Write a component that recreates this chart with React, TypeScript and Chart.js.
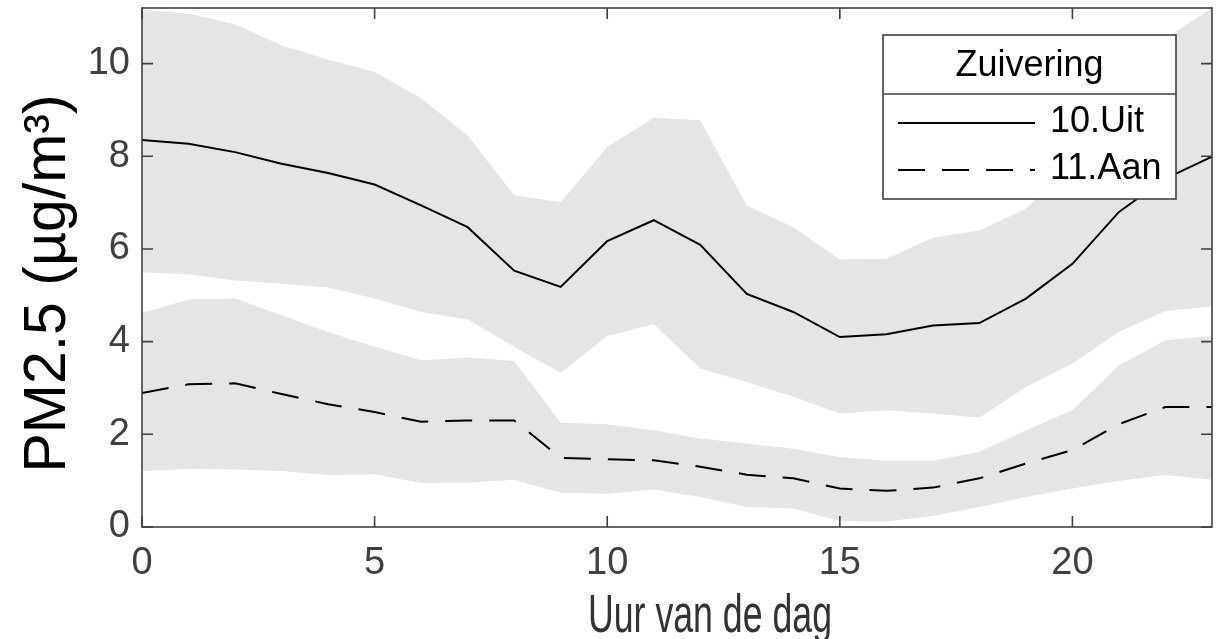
import React, { useEffect, useRef } from "react";
import { Chart, registerables } from "chart.js";

Chart.register(...registerables);

// ---- data ----
const hours = [0, 1, 2, 3, 4, 5, 6, 7, 8, 9, 10, 11, 12, 13, 14, 15, 16, 17, 18, 19, 20, 21, 22, 23];

const uitMean = [8.35, 8.27, 8.09, 7.84, 7.64, 7.39, 6.94, 6.47, 5.53, 5.18, 6.17, 6.62, 6.09, 5.03, 4.64, 4.10, 4.16, 4.35, 4.40, 4.93, 5.68, 6.80, 7.52, 7.99];
const uitHigh = [11.16, 11.08, 10.85, 10.39, 10.09, 9.82, 9.25, 8.45, 7.16, 7.01, 8.20, 8.83, 8.78, 6.94, 6.47, 5.77, 5.79, 6.25, 6.40, 6.87, 7.8, 9.2, 10.54, 11.2];
const uitLow = [5.50, 5.45, 5.32, 5.25, 5.17, 4.93, 4.64, 4.48, 3.89, 3.33, 4.12, 4.38, 3.42, 3.13, 2.81, 2.45, 2.52, 2.45, 2.36, 3.02, 3.53, 4.21, 4.66, 4.76];

const aanMean = [2.89, 3.08, 3.10, 2.87, 2.65, 2.48, 2.27, 2.30, 2.30, 1.49, 1.46, 1.44, 1.30, 1.13, 1.05, 0.83, 0.78, 0.85, 1.05, 1.37, 1.66, 2.22, 2.59, 2.59];
const aanHigh = [4.62, 4.91, 4.93, 4.57, 4.21, 3.89, 3.60, 3.66, 3.58, 2.25, 2.22, 2.09, 1.91, 1.80, 1.69, 1.51, 1.43, 1.43, 1.62, 2.09, 2.52, 3.49, 4.03, 4.12];
const aanLow = [1.21, 1.25, 1.24, 1.21, 1.12, 1.14, 0.95, 0.96, 1.02, 0.74, 0.72, 0.81, 0.65, 0.43, 0.40, 0.13, 0.12, 0.24, 0.43, 0.65, 0.83, 0.99, 1.12, 1.02];

const xTicks = [0, 5, 10, 15, 20];
const yTicks = [0, 2, 4, 6, 8, 10];
const xMin = 0;
const xMax = 23;
const yMin = 0;
const yMax = 11.2;

const xTitle = "Uur van de dag";
const yTitle = "PM2.5 (µg/m³)";
const legendTitle = "Zuivering";
const seriesNames = ["10.Uit", "11.Aan"];

const FONT = "'Liberation Sans', Arial, Helvetica, sans-serif";
const BAND = "#e5e5e5";
const AXIS = "#404040";

const pts = (arr: number[]) => arr.map((v, i) => ({ x: hours[i], y: v }));

const decorPlugin = {
  id: "decor",
  afterDraw(chart: any) {
    const { ctx, chartArea: a, scales } = chart;
    const xs = scales.x;
    const ys = scales.y;
    ctx.save();

    // frame
    ctx.strokeStyle = AXIS;
    ctx.lineWidth = 1.6;
    ctx.strokeRect(a.left, a.top, a.right - a.left, a.bottom - a.top);

    // inward ticks on all four sides
    const tl = 11;
    ctx.beginPath();
    xs.ticks.forEach((t: any) => {
      const px = xs.getPixelForValue(t.value);
      ctx.moveTo(px, a.bottom);
      ctx.lineTo(px, a.bottom - tl);
      ctx.moveTo(px, a.top);
      ctx.lineTo(px, a.top + tl);
    });
    ys.ticks.forEach((t: any) => {
      const py = ys.getPixelForValue(t.value);
      ctx.moveTo(a.left, py);
      ctx.lineTo(a.left + tl, py);
      ctx.moveTo(a.right, py);
      ctx.lineTo(a.right - tl, py);
    });
    ctx.stroke();

    // y title
    ctx.save();
    ctx.fillStyle = "#000";
    ctx.font = `59px ${FONT}`;
    ctx.textAlign = "center";
    ctx.textBaseline = "alphabetic";
    ctx.translate(a.left - 77, (a.top + a.bottom) / 2 + 16);
    ctx.rotate(-Math.PI / 2);
    ctx.fillText(yTitle, 0, 0);
    ctx.restore();

    // x title (condensed like the original rendering)
    ctx.save();
    ctx.fillStyle = "#333";
    ctx.font = `54px ${FONT}`;
    ctx.textAlign = "center";
    ctx.textBaseline = "alphabetic";
    const w = ctx.measureText(xTitle).width;
    const sx = 244 / w;
    ctx.translate((a.left + a.right) / 2 + 33, a.bottom + 105);
    ctx.scale(sx, 1);
    ctx.fillText(xTitle, 0, 0);
    ctx.restore();

    // legend
    const lr = a.right - 36;
    const ll = lr - 293;
    const lt = a.top + 27;
    const lb = lt + 164;
    const div = lt + 59;
    ctx.fillStyle = "#fff";
    ctx.fillRect(ll, lt, lr - ll, lb - lt);
    ctx.strokeStyle = AXIS;
    ctx.lineWidth = 1.6;
    ctx.strokeRect(ll, lt, lr - ll, lb - lt);
    ctx.beginPath();
    ctx.moveTo(ll, div);
    ctx.lineTo(lr, div);
    ctx.stroke();

    ctx.fillStyle = "#000";
    ctx.font = `36px ${FONT}`;
    ctx.textAlign = "center";
    ctx.textBaseline = "alphabetic";
    ctx.fillText(legendTitle, (ll + lr) / 2, lt + 41);

    const lineDs = [chart.data.datasets[4], chart.data.datasets[5]];
    const rowsY = [lt + 88, lt + 135];
    ctx.textAlign = "left";
    lineDs.forEach((ds: any, i: number) => {
      const y = rowsY[i];
      ctx.save();
      ctx.strokeStyle = ds.borderColor;
      ctx.lineWidth = ds.borderWidth;
      ctx.setLineDash(ds.borderDash || []);
      ctx.beginPath();
      ctx.moveTo(ll + 15, y);
      ctx.lineTo(ll + 152, y);
      ctx.stroke();
      ctx.restore();
      ctx.fillStyle = "#000";
      ctx.fillText(ds.label, ll + 167, y + 9);
    });

    ctx.restore();
  },
};

export default function App() {
  const canvasRef = useRef<HTMLCanvasElement | null>(null);

  useEffect(() => {
    if (!canvasRef.current) return;
    const chart = new Chart(canvasRef.current, {
      type: "line",
      data: {
        datasets: [
          {
            label: "uitHigh",
            data: pts(uitHigh),
            fill: "+1",
            backgroundColor: BAND,
            borderColor: "rgba(0,0,0,0)",
            borderWidth: 0,
            pointRadius: 0,
          },
          {
            label: "uitLow",
            data: pts(uitLow),
            fill: false,
            borderColor: "rgba(0,0,0,0)",
            borderWidth: 0,
            pointRadius: 0,
          },
          {
            label: "aanHigh",
            data: pts(aanHigh),
            fill: "+1",
            backgroundColor: BAND,
            borderColor: "rgba(0,0,0,0)",
            borderWidth: 0,
            pointRadius: 0,
          },
          {
            label: "aanLow",
            data: pts(aanLow),
            fill: false,
            borderColor: "rgba(0,0,0,0)",
            borderWidth: 0,
            pointRadius: 0,
          },
          {
            label: seriesNames[0],
            data: pts(uitMean),
            fill: false,
            borderColor: "#000",
            borderWidth: 2,
            pointRadius: 0,
          },
          {
            label: seriesNames[1],
            data: pts(aanMean),
            fill: false,
            borderColor: "#000",
            borderWidth: 2,
            borderDash: [27, 17],
            pointRadius: 0,
          },
        ],
      },
      options: {
        animation: false,
        responsive: true,
        maintainAspectRatio: false,
        layout: { padding: { left: 0, right: 10, top: 8, bottom: 0 } },
        plugins: {
          legend: { display: false },
          tooltip: { enabled: false },
          filler: { drawTime: "beforeDatasetsDraw" } as any,
        },
        scales: {
          x: {
            type: "linear",
            min: xMin,
            max: xMax,
            afterBuildTicks: (s: any) => {
              s.ticks = xTicks.map((v) => ({ value: v }));
            },
            afterFit: (s: any) => {
              s.height = 112;
              s.paddingLeft = 0;
              s.paddingRight = 0;
            },
            grid: { display: false, drawTicks: false },
            border: { display: false },
            ticks: {
              autoSkip: false,
              maxRotation: 0,
              padding: 14,
              color: AXIS,
              font: { family: FONT, size: 38 },
            },
          },
          y: {
            type: "linear",
            min: yMin,
            max: yMax,
            afterBuildTicks: (s: any) => {
              s.ticks = yTicks.map((v) => ({ value: v }));
            },
            afterFit: (s: any) => {
              s.width = 142;
              s.paddingTop = 0;
              s.paddingBottom = 0;
            },
            grid: { display: false, drawTicks: false },
            border: { display: false },
            ticks: {
              padding: 12,
              color: AXIS,
              font: { family: FONT, size: 38 },
            },
          },
        },
      },
      plugins: [decorPlugin],
    });
    return () => chart.destroy();
  }, []);

  return (
    <div style={{ position: "absolute", left: 0, top: 0, width: 1222, height: 639, background: "#fff" }}>
      <canvas ref={canvasRef} />
    </div>
  );
}
